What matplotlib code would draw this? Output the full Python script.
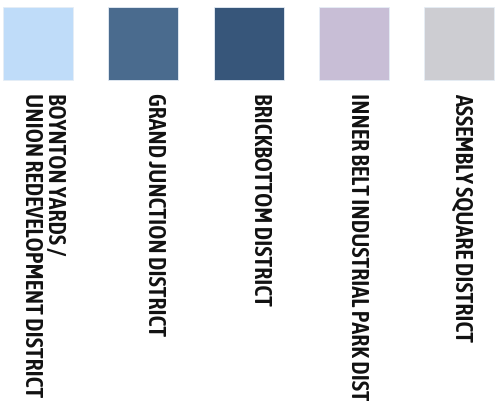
"""
Legend swatches for the Somerville districts
"""
import matplotlib
matplotlib.use('Agg')
import matplotlib.pyplot as plt
from matplotlib import font_manager
import matplotlib.patheffects as pe

districts = ['BOYNTON YARDS /\nUNION REDEVELOPMENT DISTRICT',
             'GRAND JUNCTION DISTRICT',
             'BRICKBOTTOM DISTRICT',
             'INNER BELT INDUSTRIAL PARK DISTRICT',
             'ASSEMBLY SQUARE DISTRICT']
colors = ['#bfdcf9', '#4a6b8e', '#37567a', '#c8bed6', '#cdcdd2']

# layout (pixels)
slot = 105.3
sq_w, sq_h, sq_top = 70, 73, 8
label_top = 93
label_shift = [5, 11, 12, 4, 3]
target_len = 242  # length of the GRAND JUNCTION label in the original


def num_weight(w):
    return w if isinstance(w, int) else font_manager.weight_dict.get(w, 400)


# pick an upright narrow face closest to a medium weight
fonts = font_manager.fontManager.ttflist
narrow = [f for f in fonts if ('Condensed' in f.name or 'Narrow' in f.name)
          and f.style == 'normal']
if narrow:
    best = min(narrow, key=lambda f: abs(num_weight(f.weight) - 560))
    fam, weight = best.name, num_weight(best.weight)
else:
    fam, weight = 'Roboto', 500
stroke = 0.5 if weight < 520 else 0.0
family = [fam, 'DejaVu Sans']

fig = plt.figure(figsize=(4.98, 4.02), dpi=100)
ax = fig.add_axes([0, 0, 1, 1])
ax.axis('off')

x = [i for i in range(len(districts))]
ax.bar(x, [sq_h]*len(x), bottom=sq_top, width=sq_w/slot, color=colors,
       edgecolor='#e6eef6', linewidth=0.6)
ax.set_xlim(-38/slot, (498-38)/slot)
ax.set_ylim(402, 0)

effects = [pe.withStroke(linewidth=stroke, foreground='#111111')] if stroke else None
texts = []
for i, name in enumerate(districts):
    t = ax.text(i + label_shift[i]/slot, label_top, name, rotation=-90,
                ha='center', va='top', multialignment='left',
                fontsize=15, family=family, fontweight=weight,
                color='#111111', linespacing=1.05, path_effects=effects)
    texts.append(t)

# shrink the labels so their length matches the original
r = fig.canvas.get_renderer()
h = texts[1].get_window_extent(r).height
for t in texts:
    t.set_fontsize(15 * target_len / h)

fig.savefig('out.png', dpi=100)
